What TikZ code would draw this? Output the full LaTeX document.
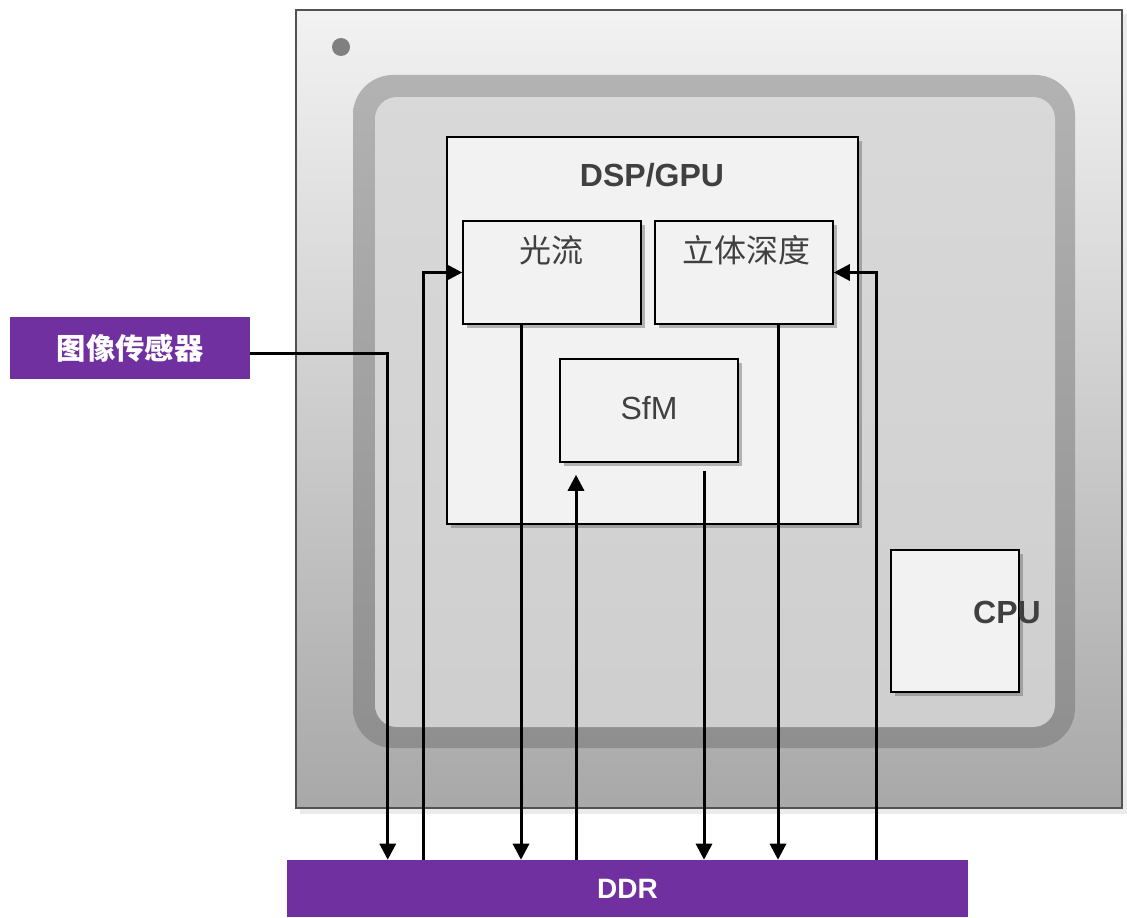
\documentclass[tikz,border=0pt]{standalone}
\usepackage{fontspec}
\setmainfont{Liberation Sans}
\newfontfamily\cjk{Noto Sans CJK SC}
\usetikzlibrary{arrows.meta,shadows}
\newdimen\px \px=0.75pt
\definecolor{soc}{HTML}{7030A0}
\definecolor{ink}{HTML}{404040}
\definecolor{panel}{HTML}{F2F2F2}
\tikzset{
  blockbox/.style={draw=black, line width=1.5\px, fill=panel, inner sep=0pt,
    drop shadow={shadow xshift=4\px, shadow yshift=-4\px, opacity=0.45, fill=black!60}},
  purplebox/.style={fill=soc, inner sep=0pt, text=white, font=\bfseries\fontsize{21pt}{24pt}\selectfont},
  titletext/.style={text=ink, font=\bfseries\fontsize{24pt}{28pt}\selectfont, inner sep=0pt},
  cjktext/.style={text=ink, font=\cjk\fontsize{24pt}{28pt}\selectfont, inner sep=0pt},
  wire/.style={line width=2.25pt, -{Triangle[length=12pt, width=12pt]}},
}
\begin{document}
\begin{tikzpicture}[x=0.75pt, y=-0.75pt]
\useasboundingbox (0,0) rectangle (1127,917);

% chip package
\fill[black!8] (300,14) rectangle (1127,814);
\node[draw=black!68, line width=2.5\px, top color=black!5, bottom color=black!34,
      minimum width=826\px, minimum height=798\px, inner sep=0pt] (chip) at (709,409) {};
\fill[black!50] (341,47) circle (9\px);

% die frame
\node[rounded corners=40\px, top color=black!30, bottom color=black!44,
      minimum width=722\px, minimum height=673\px, inner sep=0pt] (frame) at (714,411.5) {};
\node[rounded corners=22\px, top color=black!15, bottom color=black!19,
      minimum width=680\px, minimum height=630\px, inner sep=0pt] (die) at (715,412) {};

% processing blocks
\node[blockbox, minimum width=411\px, minimum height=387\px] (dsp) at (652.5,330.5) {};
\node[titletext] (dsptitle) at (652,175) {DSP/GPU};

\node[blockbox, minimum width=178\px, minimum height=103\px] (of) at (552,272.5) {};
\node[cjktext] (oftext) at (551,250) {光流};

\node[blockbox, minimum width=178\px, minimum height=103\px] (sd) at (744,272.5) {};
\node[cjktext] (sdtext) at (746,250) {立体深度};

\node[blockbox, minimum width=178\px, minimum height=103\px, text=ink,
      font=\fontsize{24pt}{28pt}\selectfont] (sfm) at (649,410.5) {\raisebox{6\px}{SfM}};

\node[blockbox, minimum width=128\px, minimum height=142\px] (cpu) at (955,621) {};
\node[titletext] (cputext) at (1007,612) {CPU};

% external parts
\node[purplebox, minimum width=240\px, minimum height=62\px] (sensor) at (130,348)
  {\cjk\bfseries\fontsize{22pt}{26pt}\selectfont 图像传感器};
\node[purplebox, minimum width=681\px, minimum height=57\px] (ddr) at (627.5,888.5) {DDR};

% data paths
\coordinate (s0) at ([yshift=-5\px]sensor.east);
\coordinate (s1) at ([xshift=101\px]ddr.north west);
\coordinate (s2) at ([xshift=137\px]ddr.north west);
\coordinate (s3) at ([xshift=-31\px]of.south);
\coordinate (s4) at ([xshift=-73\px, yshift=-12\px]sfm.south);
\coordinate (s5) at ([xshift=55\px, yshift=-8\px]sfm.south);
\coordinate (s6) at ([xshift=34\px]sd.south);
\coordinate (s7) at ([xshift=590\px]ddr.north west);

\draw[wire] (s0) -| (s1);
\draw[wire] (s2) |- (of.west);
\draw[wire] (s3) -- (s3 |- ddr.north);
\draw[wire] (s4 |- ddr.north) -- (s4);
\draw[wire] (s5) -- (s5 |- ddr.north);
\draw[wire] (s6) -- (s6 |- ddr.north);
\draw[wire] (s7) |- (sd.east);
\end{tikzpicture}
\end{document}
